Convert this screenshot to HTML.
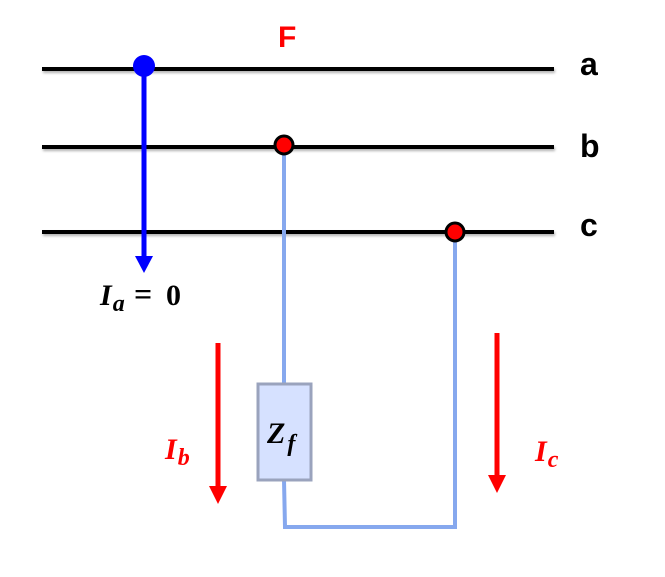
<!DOCTYPE html>
<html><head><meta charset="utf-8"><style>
html,body{margin:0;padding:0;background:#fff;width:665px;height:577px;overflow:hidden}
</style></head><body>
<svg width="665" height="577" viewBox="0 0 665 577" xmlns="http://www.w3.org/2000/svg">
<defs>
<filter id="sh" x="-5%" y="-50%" width="110%" height="300%"><feDropShadow dx="1" dy="2" stdDeviation="1.2" flood-color="#000" flood-opacity="0.3"/></filter>
</defs>
<g stroke="#000" stroke-width="4" filter="url(#sh)">
<line x1="42" y1="69" x2="554" y2="69"/>
<line x1="42" y1="147" x2="554" y2="147"/>
<line x1="42" y1="232" x2="554" y2="232"/>
</g>
<g font-family="Liberation Sans, sans-serif" font-weight="bold" font-size="32">
<text x="580" y="75">a</text>
<text x="580" y="157">b</text>
<text x="580" y="236">c</text>
<text x="278" y="47" fill="#f00" font-size="30">F</text>
</g>
<line x1="144" y1="66" x2="144" y2="256" stroke="#00f" stroke-width="5"/>
<polygon points="135,256 153,256 144,273" fill="#00f"/>
<circle cx="144" cy="66" r="11" fill="#00f"/>
<g stroke="#86a8ee" stroke-width="4" fill="none">
<polyline points="284,145 284,384"/>
<polyline points="284,480 285,527 455,527 455,232"/>
</g>
<rect x="258" y="384" width="53" height="96" fill="#d6e1ff" stroke="#9aa3bd" stroke-width="3"/>
<circle cx="284" cy="145" r="9" fill="#f00" stroke="#000" stroke-width="3"/>
<circle cx="455" cy="232" r="9" fill="#f00" stroke="#000" stroke-width="3"/>
<line x1="218" y1="343" x2="218" y2="488" stroke="#f00" stroke-width="5"/>
<polygon points="209,486 227,486 218,504" fill="#f00"/>
<line x1="497" y1="333" x2="497" y2="477" stroke="#f00" stroke-width="5"/>
<polygon points="488,475 506,475 497,493" fill="#f00"/>
<g font-family="Liberation Serif, serif" font-weight="bold" font-style="italic">
<text x="100" y="305" font-size="30">I<tspan font-size="24" dy="6" dx="1">a</tspan></text>
<text x="134" y="305" font-size="32" font-style="normal">=</text>
<text x="166" y="305" font-size="30" font-style="normal">0</text>
<text x="165" y="459" font-size="30" fill="#f00">I<tspan font-size="24" dy="6" dx="1">b</tspan></text>
<text x="535" y="461" font-size="30" fill="#f00">I<tspan font-size="24" dy="6" dx="1">c</tspan></text>
<text x="267" y="443" font-size="30">Z<tspan font-size="24" dy="8" dx="2">f</tspan></text>
</g>
</svg>
</body></html>
